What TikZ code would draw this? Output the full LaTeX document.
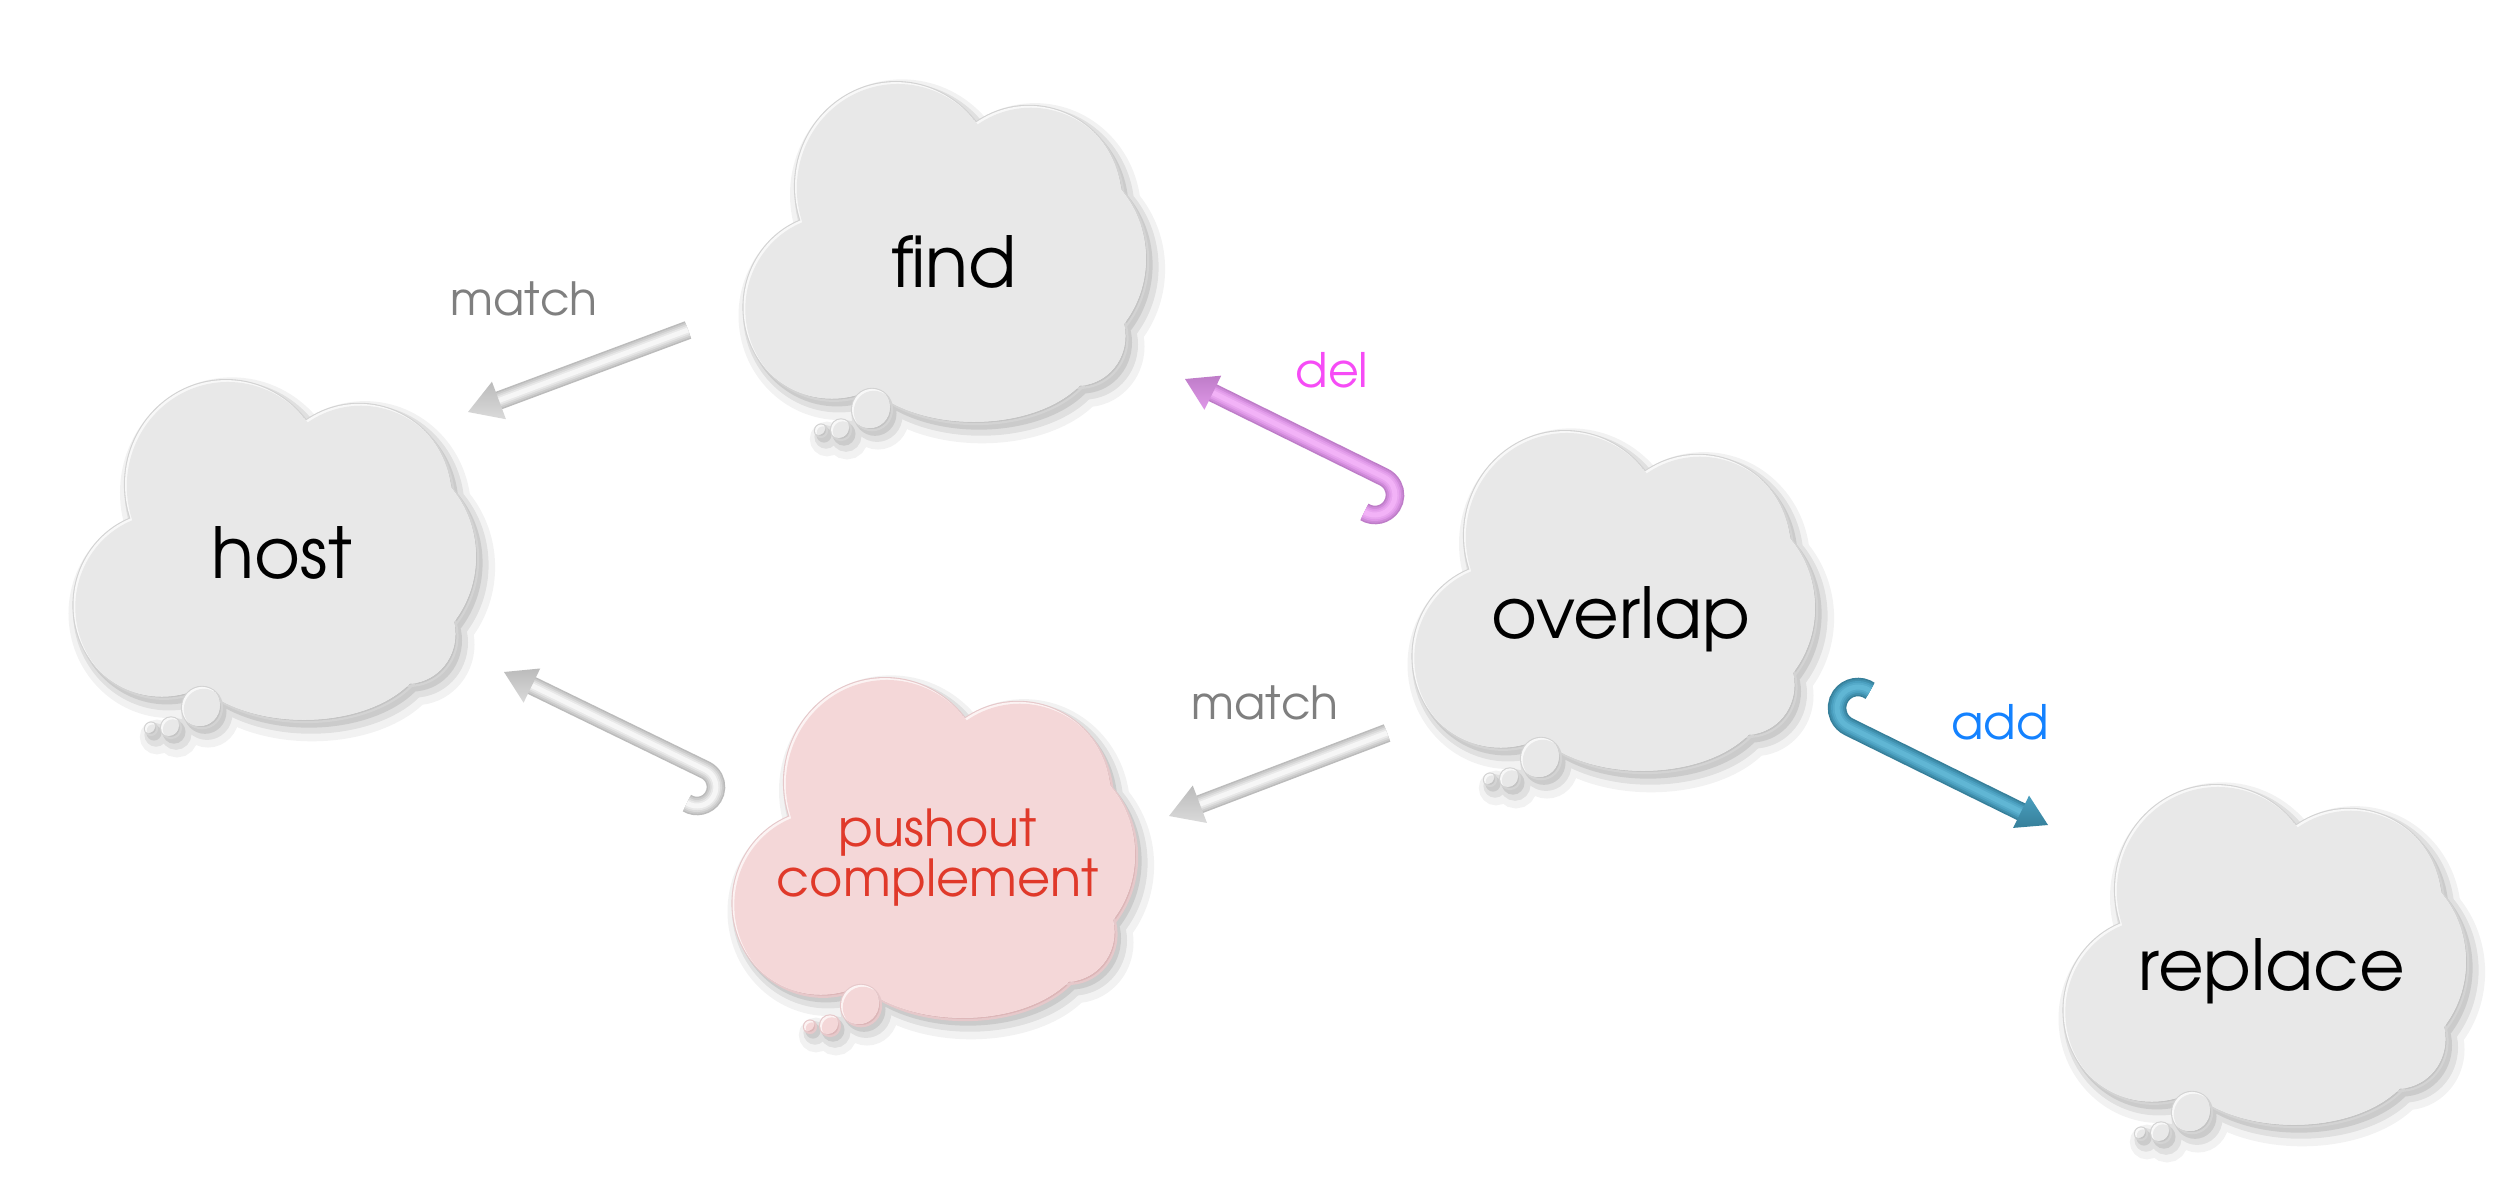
\documentclass[tikz,border=0pt]{standalone}
\usepackage{fontspec}
\IfFontExistsTF{TeX Gyre Adventor}{\setmainfont{TeX Gyre Adventor}}{\setmainfont{Poppins}}
\usetikzlibrary{calc}
\definecolor{cloudfill}{HTML}{E8E8E8}
\definecolor{cloudedge}{HTML}{C4C4C4}
\definecolor{pinkfill}{HTML}{F4D7D8}
\definecolor{pinkedge}{HTML}{DDB6B8}
\definecolor{pushred}{HTML}{E0392A}
\definecolor{matchgray}{HTML}{7F7F7F}
\definecolor{delmag}{HTML}{F64CF6}
\definecolor{addblue}{HTML}{1482FF}
\definecolor{gA}{HTML}{BBBBBB}
\definecolor{gB}{HTML}{DADADA}
\definecolor{gC}{HTML}{F6F6F6}
\definecolor{pA}{HTML}{BE7CC8}
\definecolor{pB}{HTML}{DF98E8}
\definecolor{pC}{HTML}{F2B2F7}
\definecolor{tA}{HTML}{367F9A}
\definecolor{tB}{HTML}{4A9FBF}
\definecolor{tC}{HTML}{60B6D4}

\newcommand\cloudlobes{(153,104) circle[radius=101] (286,121) circle[radius=95] (303.5,176) circle[radius=101.6] (336.5,251) circle[radius=48] (233,264) ellipse[x radius=122, y radius=70] (91,221) circle[radius=90.5] (210,170) circle[radius=100]}
\newcommand\bubbleA{(129,320) circle[radius=20]}
\newcommand\bubbleB{(98,339.5) circle[radius=10]}
\newcommand\bubbleC{(78,340.5) circle[radius=6]}

% soft drop shadow of a shape
\newcommand\softshadow[1]{%
  \begin{scope}[transparency group, opacity=0.05]
    \filldraw[black, line width=2.2mm, shift={(6,8)}] #1;
  \end{scope}
  \begin{scope}[transparency group, opacity=0.07]
    \filldraw[black, line width=1.1mm, shift={(5,6)}] #1;
  \end{scope}
  \begin{scope}[transparency group, opacity=0.09]
    \filldraw[black, line width=0.3mm, shift={(3,4)}] #1;
  \end{scope}}

% bevelled body of a shape: #1 path, #2 fill, #3 edge
\newcommand\bevelbody[3]{%
  \filldraw[draw=#3!75!white, line width=0.22mm, fill=#3] #1;
  \begin{scope}
    \clip #1;
    \fill[white!70!#2, shift={(-2.2,-2.2)}] #1;
    \clip[shift={(-2.2,-2.2)}] #1;
    \fill[#2, shift={(1.8,1.8)}] #1;
  \end{scope}}

\newcommand\drawcloud[3]{%
  \begin{scope}[shift={#1}, yscale=1.033]
    \softshadow{\cloudlobes \bubbleA \bubbleB \bubbleC}
    \bevelbody{\cloudlobes}{#2}{#3}
    \bevelbody{\bubbleA}{#2}{#3}
    \bevelbody{\bubbleB}{#2}{#3}
    \bevelbody{\bubbleC}{#2}{#3}
  \end{scope}}

\newcommand\tubedraw[4]{%
  \draw[line width=1.85mm, draw=#2, line cap=butt] #1;
  \draw[line width=1.55mm, draw=#2!50!#3, line cap=butt, shift={(0,1)}] #1;
  \draw[line width=1.2mm, draw=#3, line cap=butt, shift={(0,1.8)}] #1;
  \draw[line width=0.85mm, draw=#3!50!#4, line cap=butt, shift={(0,2.6)}] #1;
  \draw[line width=0.5mm, draw=#4, line cap=butt, shift={(0,3.2)}] #1;
}

\newcommand\headdraw[6]{% tip, toward, length, half width, top colour, bottom colour
  \path ($(#1)!#3!(#2)$) coordinate (ahB);
  \shade[top color=#5, bottom color=#6] (#1) -- ($(ahB)!#4!90:(#1)$) -- ($(ahB)!#4!-90:(#1)$) -- cycle;
}

\begin{document}
\begin{tikzpicture}[x=0.01cm, y=-0.01cm,
  cloudtxt/.style={anchor=base, inner sep=0pt, font=\fontsize{20}{24}\selectfont, text=black},
  pushtxt/.style={anchor=center, inner sep=0pt, align=center, font=\fontsize{14.5}{14.2}\selectfont, text=pushred},
  edgetxt/.style={anchor=base, inner sep=0pt, font=\fontsize{13}{15}\selectfont},
  ]
\fill[white] (0,0) rectangle (2500,1200);
\useasboundingbox (0,0) rectangle (2500,1200);

% clouds
\drawcloud{(73,377)}{cloudfill}{cloudedge}
\drawcloud{(743,79)}{cloudfill}{cloudedge}
\drawcloud{(1412,428)}{cloudfill}{cloudedge}
\drawcloud{(732,675)}{pinkfill}{pinkedge}
\drawcloud{(2063,782)}{cloudfill}{cloudedge}

\node[cloudtxt] (host) at (282,578) {host};
\node[cloudtxt] (find) at (954,287) {find};
\node[cloudtxt] (overlap) at (1621,638) {overlap};
\node[cloudtxt] (replace) at (2272,990) {replace};
\node[pushtxt] (pushout) at (938,858) {pushout\\complement};

% connector end points
\coordinate (mAtail) at (688,330);
\coordinate (mAtip) at (468,412);
\coordinate (mDtail) at (1387,733);
\coordinate (mDtip) at (1169,816);
\coordinate (delC) at (1375,495);
\coordinate (delTip) at (1185,379);
\coordinate (delK) at ($(delC)+(-63.8:20)$);
\coordinate (mCC) at (697,787);
\coordinate (mCtip) at (504,672);
\coordinate (mCK) at ($(mCC)+(-64:19)$);
\coordinate (addC) at (1858,708);
\coordinate (addTip) at (2048,825);
\coordinate (addK) at ($(addC)+(116.2:21)$);

\coordinate (mAend) at ($(mAtip)!0.28cm!(mAtail)$);
\coordinate (mDend) at ($(mDtip)!0.28cm!(mDtail)$);
\coordinate (delEnd) at ($(delTip)!0.26cm!(delK)$);
\coordinate (mCend) at ($(mCtip)!0.26cm!(mCK)$);
\coordinate (addEnd) at ($(addTip)!0.26cm!(addK)$);

% match (find -> host)
\tubedraw{(mAtail) -- (mAend)}{gA}{gB}{gC}
\headdraw{mAtip}{mAtail}{0.33cm}{0.20cm}{gA}{gB}
% match (overlap -> pushout complement)
\tubedraw{(mDtail) -- (mDend)}{gA}{gB}{gC}
\headdraw{mDtip}{mDtail}{0.33cm}{0.20cm}{gA}{gB}
% match (pushout complement -> host), hooked
\tubedraw{($(mCC)+(122:19)$) arc[start angle=122, end angle=-64, radius=19] -- (mCend)}{gA}{gB}{gC}
\headdraw{mCtip}{mCK}{0.31cm}{0.19cm}{gA}{gB}
% del
\tubedraw{($(delC)+(122:20)$) arc[start angle=122, end angle=-63.8, radius=20] -- (delEnd)}{pA}{pB}{pC}
\headdraw{delTip}{delK}{0.31cm}{0.19cm}{pA}{pB}
% add
\tubedraw{($(addC)+(-55:21)$) arc[start angle=-55, end angle=-243.8, radius=21] -- (addEnd)}{tA}{tB}{tC}
\headdraw{addTip}{addK}{0.30cm}{0.18cm}{tB}{tA}

% labels
\node[edgetxt, text=matchgray] (lblA) at (524,315) {match};
\node[edgetxt, text=matchgray] (lblD) at (1265,719) {match};
\node[edgetxt, text=delmag, font=\fontsize{13.5}{16}\selectfont] (lblDel) at (1332,387) {del};
\node[edgetxt, text=addblue, font=\fontsize{13.5}{16}\selectfont] (lblAdd) at (2000,739) {add};
\end{tikzpicture}
\end{document}
